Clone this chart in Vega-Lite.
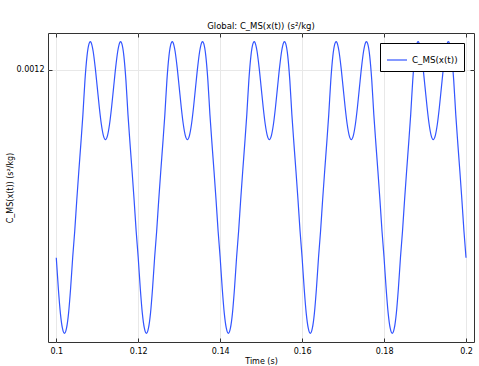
{
  "$schema": "https://vega.github.io/schema/vega-lite/v6.json",
  "width": 426,
  "height": 309,
  "autosize": {"type": "none"},
  "padding": {"left": 48, "top": 33, "right": 5, "bottom": 24},
  "title": {"text": "Global: C_MS(x(t)) (s²/kg)", "font": "DejaVu Sans", "fontSize": 8.5, "fontWeight": "normal", "color": "#000", "offset": 2},
  "config": {
    "view": {"stroke": "#333", "strokeWidth": 1},
    "axis": {"labelFont": "DejaVu Sans", "titleFont": "DejaVu Sans", "labelFontSize": 8, "titleFontSize": 8, "titleFontWeight": "normal", "labelColor": "#000", "titleColor": "#000", "domain": false, "tickColor": "#333", "gridColor": "#e8e8e8", "gridWidth": 1}
  },
  "data": {"values": [
    {"t":0.1,"c":0.00116234},{"t":0.1005,"c":0.00115623},{"t":0.101,"c":0.00115125},{"t":0.1015,"c":0.00114822},{"t":0.102,"c":0.0011472},{"t":0.1025,"c":0.00114822},{"t":0.103,"c":0.00115125},{"t":0.1035,"c":0.00115623},{"t":0.104,"c":0.00116234},{"t":0.1045,"c":0.00116765},{"t":0.105,"c":0.00117386},{"t":0.1055,"c":0.00117966},{"t":0.106,"c":0.00118518},{"t":0.1065,"c":0.001191},{"t":0.107,"c":0.00119786},{"t":0.1075,"c":0.00120272},{"t":0.108,"c":0.0012052},{"t":0.10832,"c":0.0012056},{"t":0.1085,"c":0.00120544},{"t":0.109,"c":0.00120368},{"t":0.1095,"c":0.00120046},{"t":0.11,"c":0.0011965},{"t":0.1105,"c":0.00119248},{"t":0.111,"c":0.00118906},{"t":0.1115,"c":0.0011868},{"t":0.112,"c":0.001186},{"t":0.1125,"c":0.0011868},{"t":0.113,"c":0.00118906},{"t":0.1135,"c":0.00119248},{"t":0.114,"c":0.0011965},{"t":0.1145,"c":0.00120046},{"t":0.115,"c":0.00120368},{"t":0.1155,"c":0.00120544},{"t":0.11568,"c":0.0012056},{"t":0.116,"c":0.0012052},{"t":0.1165,"c":0.00120272},{"t":0.117,"c":0.00119786},{"t":0.1175,"c":0.001191},{"t":0.118,"c":0.00118518},{"t":0.1185,"c":0.00117966},{"t":0.119,"c":0.00117386},{"t":0.1195,"c":0.00116765},
    {"t":0.12,"c":0.00116234},{"t":0.1205,"c":0.00115623},{"t":0.121,"c":0.00115125},{"t":0.1215,"c":0.00114822},{"t":0.122,"c":0.0011472},{"t":0.1225,"c":0.00114822},{"t":0.123,"c":0.00115125},{"t":0.1235,"c":0.00115623},{"t":0.124,"c":0.00116234},{"t":0.1245,"c":0.00116765},{"t":0.125,"c":0.00117386},{"t":0.1255,"c":0.00117966},{"t":0.126,"c":0.00118518},{"t":0.1265,"c":0.001191},{"t":0.127,"c":0.00119786},{"t":0.1275,"c":0.00120272},{"t":0.128,"c":0.0012052},{"t":0.12832,"c":0.0012056},{"t":0.1285,"c":0.00120544},{"t":0.129,"c":0.00120368},{"t":0.1295,"c":0.00120046},{"t":0.13,"c":0.0011965},{"t":0.1305,"c":0.00119248},{"t":0.131,"c":0.00118906},{"t":0.1315,"c":0.0011868},{"t":0.132,"c":0.001186},{"t":0.1325,"c":0.0011868},{"t":0.133,"c":0.00118906},{"t":0.1335,"c":0.00119248},{"t":0.134,"c":0.0011965},{"t":0.1345,"c":0.00120046},{"t":0.135,"c":0.00120368},{"t":0.1355,"c":0.00120544},{"t":0.13568,"c":0.0012056},{"t":0.136,"c":0.0012052},{"t":0.1365,"c":0.00120272},{"t":0.137,"c":0.00119786},{"t":0.1375,"c":0.001191},{"t":0.138,"c":0.00118518},{"t":0.1385,"c":0.00117966},{"t":0.139,"c":0.00117386},{"t":0.1395,"c":0.00116765},
    {"t":0.14,"c":0.00116234},{"t":0.1405,"c":0.00115623},{"t":0.141,"c":0.00115125},{"t":0.1415,"c":0.00114822},{"t":0.142,"c":0.0011472},{"t":0.1425,"c":0.00114822},{"t":0.143,"c":0.00115125},{"t":0.1435,"c":0.00115623},{"t":0.144,"c":0.00116234},{"t":0.1445,"c":0.00116765},{"t":0.145,"c":0.00117386},{"t":0.1455,"c":0.00117966},{"t":0.146,"c":0.00118518},{"t":0.1465,"c":0.001191},{"t":0.147,"c":0.00119786},{"t":0.1475,"c":0.00120272},{"t":0.148,"c":0.0012052},{"t":0.14832,"c":0.0012056},{"t":0.1485,"c":0.00120544},{"t":0.149,"c":0.00120368},{"t":0.1495,"c":0.00120046},{"t":0.15,"c":0.0011965},{"t":0.1505,"c":0.00119248},{"t":0.151,"c":0.00118906},{"t":0.1515,"c":0.0011868},{"t":0.152,"c":0.001186},{"t":0.1525,"c":0.0011868},{"t":0.153,"c":0.00118906},{"t":0.1535,"c":0.00119248},{"t":0.154,"c":0.0011965},{"t":0.1545,"c":0.00120046},{"t":0.155,"c":0.00120368},{"t":0.1555,"c":0.00120544},{"t":0.15568,"c":0.0012056},{"t":0.156,"c":0.0012052},{"t":0.1565,"c":0.00120272},{"t":0.157,"c":0.00119786},{"t":0.1575,"c":0.001191},{"t":0.158,"c":0.00118518},{"t":0.1585,"c":0.00117966},{"t":0.159,"c":0.00117386},{"t":0.1595,"c":0.00116765},
    {"t":0.16,"c":0.00116234},{"t":0.1605,"c":0.00115623},{"t":0.161,"c":0.00115125},{"t":0.1615,"c":0.00114822},{"t":0.162,"c":0.0011472},{"t":0.1625,"c":0.00114822},{"t":0.163,"c":0.00115125},{"t":0.1635,"c":0.00115623},{"t":0.164,"c":0.00116234},{"t":0.1645,"c":0.00116765},{"t":0.165,"c":0.00117386},{"t":0.1655,"c":0.00117966},{"t":0.166,"c":0.00118518},{"t":0.1665,"c":0.001191},{"t":0.167,"c":0.00119786},{"t":0.1675,"c":0.00120272},{"t":0.168,"c":0.0012052},{"t":0.16832,"c":0.0012056},{"t":0.1685,"c":0.00120544},{"t":0.169,"c":0.00120368},{"t":0.1695,"c":0.00120046},{"t":0.17,"c":0.0011965},{"t":0.1705,"c":0.00119248},{"t":0.171,"c":0.00118906},{"t":0.1715,"c":0.0011868},{"t":0.172,"c":0.001186},{"t":0.1725,"c":0.0011868},{"t":0.173,"c":0.00118906},{"t":0.1735,"c":0.00119248},{"t":0.174,"c":0.0011965},{"t":0.1745,"c":0.00120046},{"t":0.175,"c":0.00120368},{"t":0.1755,"c":0.00120544},{"t":0.17568,"c":0.0012056},{"t":0.176,"c":0.0012052},{"t":0.1765,"c":0.00120272},{"t":0.177,"c":0.00119786},{"t":0.1775,"c":0.001191},{"t":0.178,"c":0.00118518},{"t":0.1785,"c":0.00117966},{"t":0.179,"c":0.00117386},{"t":0.1795,"c":0.00116765},
    {"t":0.18,"c":0.00116234},{"t":0.1805,"c":0.00115623},{"t":0.181,"c":0.00115125},{"t":0.1815,"c":0.00114822},{"t":0.182,"c":0.0011472},{"t":0.1825,"c":0.00114822},{"t":0.183,"c":0.00115125},{"t":0.1835,"c":0.00115623},{"t":0.184,"c":0.00116234},{"t":0.1845,"c":0.00116765},{"t":0.185,"c":0.00117386},{"t":0.1855,"c":0.00117966},{"t":0.186,"c":0.00118518},{"t":0.1865,"c":0.001191},{"t":0.187,"c":0.00119786},{"t":0.1875,"c":0.00120272},{"t":0.188,"c":0.0012052},{"t":0.18832,"c":0.0012056},{"t":0.1885,"c":0.00120544},{"t":0.189,"c":0.00120368},{"t":0.1895,"c":0.00120046},{"t":0.19,"c":0.0011965},{"t":0.1905,"c":0.00119248},{"t":0.191,"c":0.00118906},{"t":0.1915,"c":0.0011868},{"t":0.192,"c":0.001186},{"t":0.1925,"c":0.0011868},{"t":0.193,"c":0.00118906},{"t":0.1935,"c":0.00119248},{"t":0.194,"c":0.0011965},{"t":0.1945,"c":0.00120046},{"t":0.195,"c":0.00120368},{"t":0.1955,"c":0.00120544},{"t":0.19568,"c":0.0012056},{"t":0.196,"c":0.0012052},{"t":0.1965,"c":0.00120272},{"t":0.197,"c":0.00119786},{"t":0.1975,"c":0.001191},{"t":0.198,"c":0.00118518},{"t":0.1985,"c":0.00117966},{"t":0.199,"c":0.00117386},{"t":0.1995,"c":0.00116765},
    {"t":0.2,"c":0.00116234}
  ]},
  "layer": [
    {
      "mark": {"type": "line", "strokeWidth": 1.2, "interpolate": "monotone"},
      "encoding": {
        "x": {"field": "t", "type": "quantitative", "scale": {"domain": [0.09798, 0.20195], "nice": false, "zero": false},
              "axis": {"orient": "bottom", "values": [0.1, 0.12, 0.14, 0.16, 0.18, 0.2], "format": "~g", "title": "Time (s)", "tickSize": -4, "labelPadding": 9, "titlePadding": 2, "grid": true}},
        "y": {"field": "c", "type": "quantitative", "scale": {"domain": [0.00114546, 0.00120734], "nice": false, "zero": false},
              "axis": {"orient": "left", "values": [0.0012], "format": "~g", "title": "C_MS(x(t)) (s²/kg)", "tickSize": -4, "labelPadding": 8, "titlePadding": 2, "grid": true}},
        "color": {"datum": "C_MS(x(t))", "type": "nominal", "scale": {"range": ["#3355ff"]},
                  "legend": {"title": null, "orient": "top-right", "offset": 10, "strokeColor": "#000", "fillColor": "#fff", "padding": 6, "symbolType": "stroke", "symbolSize": 400, "symbolStrokeWidth": 1.2, "labelFont": "DejaVu Sans", "labelFontSize": 8.7, "labelColor": "#000", "cornerRadius": 0}}
      }
    },
    {
      "mark": {"type": "line", "opacity": 0},
      "encoding": {
        "x": {"field": "t", "type": "quantitative", "axis": {"orient": "top", "values": [0.1, 0.12, 0.14, 0.16, 0.18, 0.2], "labels": false, "title": null, "tickSize": -4, "grid": false}},
        "y": {"field": "c", "type": "quantitative", "axis": {"orient": "right", "values": [0.0012], "labels": false, "title": null, "tickSize": -4, "grid": false}}
      }
    }
  ],
  "resolve": {"axis": {"x": "independent", "y": "independent"}}
}
